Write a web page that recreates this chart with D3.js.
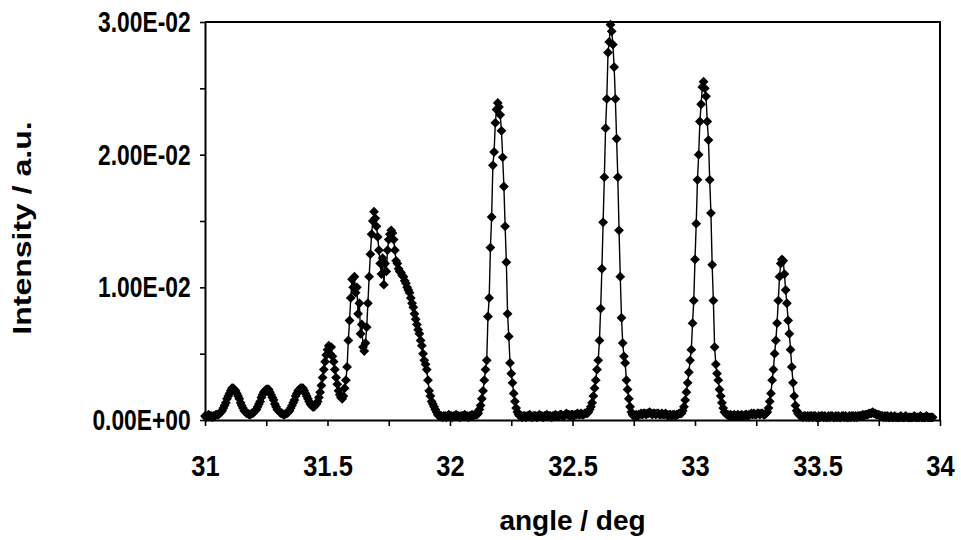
<!DOCTYPE html>
<html><head><meta charset="utf-8">
<script src="https://cdn.jsdelivr.net/npm/d3@7"></script>
<style>body{margin:0;background:#fff} svg{display:block}</style>
</head><body><svg id="chart" width="961" height="540"></svg>
<script>
// ---- data (intensity in units of 1e-4 a.u.), scan step 0.005 deg ----
const angleStep = 0.005;
const intensityUnit = 1e-4;
const segStart = [31.000, 31.455, 31.965, 32.110, 32.290, 32.555, 32.750, 32.945, 33.135, 33.285, 33.430];
const segSmallPeaks = [3,2,3,4,3,3,2,3,3,4, 4,4,5,6,7,9,11,13,16,18, 20,22,24,24,23,22,20,18,16,13,
  11,9,7,6,5,5,4,4,5,5, 6,7,8,10,12,14,17,19,21,22, 23,23,23,21,19,17,15,12,10,8,
  7,6,5,5,4,4,5,5,6,7, 9,11,13,15,18,20,22,23,24,24, 24,22,20,18,16,14,12,11,10,10, 11];
const segCluster = [12,14,17,21,26,32,38,44,49,53, 56,50,55,48,44,38,32,27,22,19,
  17,16,18,24,30,40,60,75,92,106, 100,108,96,100,80,88,65,72,55,52,
  58,70,88,108,125,140,150,157,152,146, 138,128,118,110,122,102,118,112,128,136,
  140,143,141,136,128,120,118,114,112,111, 109,108,105,103,100,98,96,92,88,85,
  80,76,72,68,65,60,56,50,45,42, 38,30,22,18,14,12,10,8,6,4, 3,3];
const segBase1 = [3,2,3,3,2,3,4,3,3,2, 3,3,4,3,3,2,3,3,3,4, 3,3,2,3,3,4,3,4,4];
const segPeak322 = [4,5,8,11,16,22,30,38,45,78, 92,130,153,192,202,224,234,239,236,230,
  218,198,176,146,119,80,63,43,35,28, 20,14,9,6,4,3];
const segBase2 = [3,2,3,3,2,3,3,4,3,2, 3,3,3,2,3,4,3,3,2,3, 3,4,3,3,3,2,3,3,4,3,
  3,3,4,4,3,3,4,5,4,4, 3,4,4,3,4,4,5,4,4,5, 4,4,5];
const segPeak3265 = [5,5,6,8,10,13,18,24,30,38, 45,60,84,114,149,183,220,242,277,285,
  298,293,283,266,242,212,183,143,108,77, 58,48,43,30,23,16,10,6,4];
const segBase3 = [3,3,4,3,4,4,5,4,5,5, 4,5,5,6,5,4,5,5,4,5, 5,4,4,5,4,4,5,4,3,4, 4,3,4,4,3,4,4,5,5];
const segPeak3303 = [5,7,10,15,21,28,36,45,53,73, 90,121,148,181,200,225,238,251,255,250,
  244,225,211,181,156,117,90,55,42,35, 30,23,18,13,9,6,5,4];
const segBase4 = [4,3,4,3,3,4,3,3,4,3, 3,4,3,3,4,4,3,4,4,5, 4,5,4,4,5,5,4,5,5,4];
const segPeak3336 = [4,5,6,9,14,20,30,38,50,60, 73,90,108,118,121,120,110,98,88,75,
  65,53,40,28,18,11,7,5,4];
const segTail = [3,3,2,3,3,2,3,2,3,3, 2,3,3,2,2,3,2,3,3,2, 3,2,2,3,2,3,3,2,2,3,
  2,3,2,2,3,3,2,3,2,2, 3,2,3,3,2,3,2,3,3,3, 3,4,3,4,4,4,5,5,5,6,
  5,5,4,4,4,3,3,3,2,3, 2,3,2,2,3,2,2,3,2,2, 2,2,3,2,2,2,3,2,2,2,
  2,2,2,3,2,2,2,2,3,2, 2,2,2,3,2,2,2,2,2];
const segValues = [segSmallPeaks, segCluster, segBase1, segPeak322, segBase2, segPeak3265,
  segBase3, segPeak3303, segBase4, segPeak3336, segTail];

const xTickValues = [31, 31.25, 31.5, 31.75, 32, 32.25, 32.5, 32.75, 33, 33.25, 33.5, 33.75, 34];
const xTickLabels = ["31", "", "31.5", "", "32", "", "32.5", "", "33", "", "33.5", "", "34"];
const yTickValues = [0, 0.005, 0.01, 0.015, 0.02, 0.025, 0.03];
const yTickLabels = ["0.00E+00", "", "1.00E-02", "", "2.00E-02", "", "3.00E-02"];
const xTitle = "angle / deg";
const yTitle = "Intensity / a.u.";

// ---- build points ----
const points = [];
segValues.forEach((vals, s) => {
  vals.forEach((v, k) => points.push({ angle: +(segStart[s] + k * angleStep).toFixed(3), value: v * intensityUnit }));
});

const svg = d3.select("#chart");
const L = 205, R = 940, T = 22, B = 420;
const x = d3.scaleLinear().domain([31, 34]).range([L, R]);
const y = d3.scaleLinear().domain([0, 0.03]).range([B, T]);

const font = "'Liberation Sans', Arial, Helvetica, sans-serif";

// frame
svg.append("path")
  .attr("d", `M${L},${T}H${R}V${B}`)
  .attr("fill", "none").attr("stroke", "#000").attr("stroke-width", 2);

// x axis
const xAxis = svg.append("g").attr("transform", `translate(0,${B})`)
  .call(d3.axisBottom(x).tickValues(xTickValues).tickFormat((d, i) => xTickLabels[i]).tickSize(6).tickPadding(29).tickSizeOuter(0));
xAxis.select(".domain").attr("stroke-width", 2);
xAxis.selectAll(".tick line").attr("stroke-width", 1.6);
xAxis.selectAll("text").attr("font-family", font).attr("font-weight", "bold").attr("font-size", 30)
  .attr("fill", "#000").attr("transform", "scale(0.85,1)");

// y axis
const yAxis = svg.append("g").attr("transform", `translate(${L},0)`)
  .call(d3.axisLeft(y).tickValues(yTickValues).tickFormat((d, i) => yTickLabels[i]).tickSize(5).tickPadding(14).tickSizeOuter(0));
yAxis.select(".domain").attr("stroke-width", 2);
yAxis.selectAll(".tick line").attr("stroke-width", 1.6);
yAxis.selectAll("text").attr("font-family", font).attr("font-weight", "bold").attr("font-size", 30)
  .attr("fill", "#000").attr("transform", "scale(0.76,1)");

// line
svg.append("path").datum(points)
  .attr("fill", "none").attr("stroke", "#000").attr("stroke-width", 1.4)
  .attr("d", d3.line().x(d => x(d.angle)).y(d => y(d.value)));

// markers
const diamond = d3.symbol().type(d3.symbolSquare).size(48)();
svg.append("g").selectAll("path").data(points).join("path")
  .attr("d", diamond)
  .attr("transform", d => `translate(${x(d.angle)},${y(d.value)}) rotate(45)`)
  .attr("fill", "#000");

// titles
svg.append("text").attr("x", (L + R) / 2).attr("y", 530).attr("text-anchor", "middle")
  .attr("font-family", font).attr("font-weight", "bold").attr("font-size", 28).text(xTitle);
svg.append("text").attr("transform", `translate(31,228) rotate(-90) scale(1.28,1)`).attr("text-anchor", "middle")
  .attr("font-family", font).attr("font-weight", "bold").attr("font-size", 25).text(yTitle);
</script></body></html>
